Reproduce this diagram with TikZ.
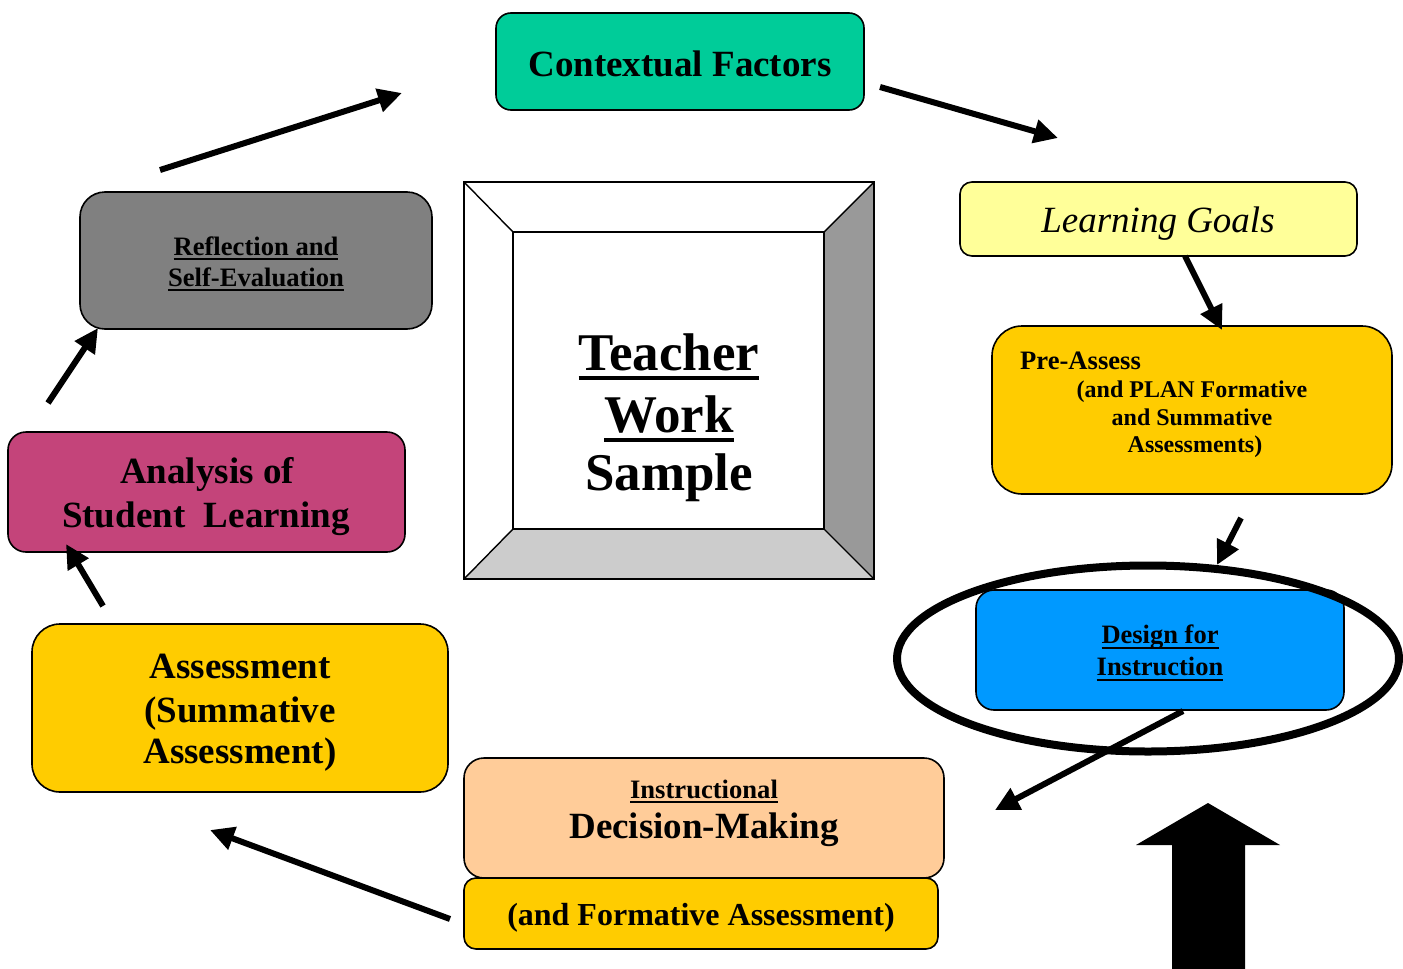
\documentclass[tikz,border=0pt]{standalone}
\usepackage{fontspec}
\setmainfont{Liberation Serif}
\usetikzlibrary{arrows.meta,shapes.geometric}
\definecolor{cfc}{HTML}{00CC99}
\definecolor{lgc}{HTML}{FFFF99}
\definecolor{goldc}{HTML}{FFCC00}
\definecolor{dsc}{HTML}{0099FF}
\definecolor{dmc}{HTML}{FFCC99}
\definecolor{anc}{RGB}{196,68,122}
\definecolor{rfc}{HTML}{808080}
\definecolor{bevr}{HTML}{999999}
\definecolor{bevb}{HTML}{CCCCCC}
\newcommand\myul[3]{\leavevmode\setbox0\hbox{#3}\rlap{\copy0}\rule[-#1]{\wd0}{#2}}
\tikzset{
  boxst/.style={draw=black, line width=1.6pt, rounded corners=#1, inner sep=0pt},
  lbl/.style={anchor=base, inner sep=0pt, font=\bfseries},
  arr/.style={line width=6pt, -{Triangle[length=24pt,width=23pt]}},
}
\begin{document}
\begin{tikzpicture}[x=1pt,y=-1pt]
\useasboundingbox (0,0) rectangle (1403,969);
\fill[white] (0,0) rectangle (1403,969);

% Teacher Work Sample frame
\coordinate (fo1) at (464,182); \coordinate (fo2) at (874,182);
\coordinate (fo3) at (874,579); \coordinate (fo4) at (464,579);
\coordinate (fi1) at (513,232); \coordinate (fi2) at (824,232);
\coordinate (fi3) at (824,529); \coordinate (fi4) at (513,529);
\fill[bevr] (fo2) -- (fo3) -- (fi3) -- (fi2) -- cycle;
\fill[bevb] (fo4) -- (fo3) -- (fi3) -- (fi4) -- cycle;
\draw[line width=1.6pt] (fo1) rectangle (fo3);
\draw[line width=1.6pt] (fi1) rectangle (fi3);
\draw[line width=1.4pt] (fo1) -- (fi1) (fo2) -- (fi2) (fo3) -- (fi3) (fo4) -- (fi4);
\node[lbl, font=\bfseries\fontsize{53}{60}\selectfont] (tws1) at (669,370) {\myul{10pt}{4.5pt}{Teacher}};
\node[lbl, font=\bfseries\fontsize{53}{60}\selectfont] (tws2) at (669,432) {\myul{10pt}{4.5pt}{Work}};
\node[lbl, font=\bfseries\fontsize{53}{60}\selectfont] (tws3) at (669,490) {Sample};

% Contextual Factors
\node[boxst=15pt, fill=cfc, minimum width=368pt, minimum height=97pt] (cf) at (680,61.5) {};
\node[lbl, font=\bfseries\fontsize{37}{44}\selectfont] (cft) at (680,76) {Contextual Factors};

% Learning Goals
\node[boxst=12pt, fill=lgc, minimum width=397pt, minimum height=74pt] (lg) at (1158.5,219) {};
\node[lbl, font=\itshape\fontsize{37}{44}\selectfont] (lgt) at (1158,232) {Learning Goals};

% Pre-Assess
\node[boxst=30pt, fill=goldc, minimum width=400pt, minimum height=168pt] (pa) at (1192,410) {};
\node[lbl, anchor=base west, font=\bfseries\fontsize{26.6}{28}\selectfont] (pat1) at (1020,369) {Pre-Assess};
\node[lbl, font=\bfseries\fontsize{24}{28}\selectfont] (pat2) at (1192,397) {(and PLAN Formative};
\node[lbl, font=\bfseries\fontsize{24}{28}\selectfont] (pat3) at (1192,425) {and Summative};
\node[lbl, font=\bfseries\fontsize{24}{28}\selectfont] (pat4) at (1195,452) {Assessments)};

% Design for Instruction
\node[boxst=18pt, fill=dsc, minimum width=368pt, minimum height=120pt] (ds) at (1160,650) {};
\node[lbl, font=\bfseries\fontsize{26.5}{32}\selectfont] (dst1) at (1160,643) {\myul{6pt}{2.5pt}{Design for}};
\node[lbl, font=\bfseries\fontsize{26.5}{32}\selectfont] (dst2) at (1160,675) {\myul{6pt}{2.5pt}{Instruction}};
\node[draw, line width=8pt, ellipse, minimum width=502pt, minimum height=186pt, inner sep=0pt] (ov) at (1148,658.5) {};

% Instructional Decision-Making
\node[boxst=20pt, fill=dmc, minimum width=480pt, minimum height=120pt] (dm) at (704,818) {};
\node[lbl, font=\bfseries\fontsize{26.6}{32}\selectfont] (dmt1) at (704,798) {\myul{5pt}{2.5pt}{Instructional}};
\node[lbl, font=\bfseries\fontsize{37}{44}\selectfont] (dmt2) at (704,838) {Decision-Making};

% Formative
\node[boxst=12pt, fill=goldc, minimum width=474pt, minimum height=71pt] (fa) at (701,913.5) {};
\node[lbl, font=\bfseries\fontsize{32}{38}\selectfont] (fat) at (701,925) {(and Formative Assessment)};

% Assessment
\node[boxst=28pt, fill=goldc, minimum width=416pt, minimum height=168pt] (as) at (240,708) {};
\node[lbl, font=\bfseries\fontsize{37}{43}\selectfont] (ast1) at (240,678) {Assessment};
\node[lbl, font=\bfseries\fontsize{37}{43}\selectfont] (ast2) at (240,722) {(Summative};
\node[lbl, font=\bfseries\fontsize{37}{43}\selectfont] (ast3) at (240,763) {Assessment)};

% Analysis
\node[boxst=18pt, fill=anc, minimum width=397pt, minimum height=120pt] (an) at (206.5,492) {};
\node[lbl, font=\bfseries\fontsize{37}{44}\selectfont] (ant1) at (207,483) {Analysis of};
\node[lbl, font=\bfseries\fontsize{37}{44}\selectfont] (ant2) at (206,527) {Student\ \ Learning};

% Reflection
\node[boxst=25pt, fill=rfc, minimum width=352pt, minimum height=137pt] (rf) at (256,260.5) {};
\node[lbl, font=\bfseries\fontsize{26.6}{31}\selectfont] (rft1) at (256,255) {\myul{5pt}{2.5pt}{Reflection and}};
\node[lbl, font=\bfseries\fontsize{26.6}{31}\selectfont] (rft2) at (256,286) {\myul{5pt}{2.5pt}{Self-Evaluation}};

% arrow end points
\coordinate (a1s) at (160,170); \coordinate (a1e) at (402,93);
\coordinate (a2s) at (880,87);  \coordinate (a2e) at (1058,138);
\coordinate (a3s) at (1185,256); \coordinate (a3e) at (1222,330);
\coordinate (a4s) at (1241,518); \coordinate (a4e) at (1217,565);
\coordinate (a5s) at (1183,711); \coordinate (a5e) at (995,810);
\coordinate (a6s) at (450,919); \coordinate (a6e) at (210,830);
\coordinate (a7s) at (103,606); \coordinate (a7e) at (66,544);
\coordinate (a8s) at (48,403);  \coordinate (a8e) at (98,328);
\draw[arr] (a1s) -- (a1e);
\draw[arr] (a2s) -- (a2e);
\draw[arr] (a3s) -- (a3e);
\draw[arr] (a4s) -- (a4e);
\draw[arr] (a5s) -- (a5e);
\draw[arr] (a6s) -- (a6e);
\draw[arr] (a7s) -- (a7e);
\draw[arr] (a8s) -- (a8e);

% block arrow
\fill[black] (1172,969) -- (1172,845) -- (1136,845) -- (1208,803) -- (1280,845) -- (1245,845) -- (1245,969) -- cycle;
\end{tikzpicture}
\end{document}
